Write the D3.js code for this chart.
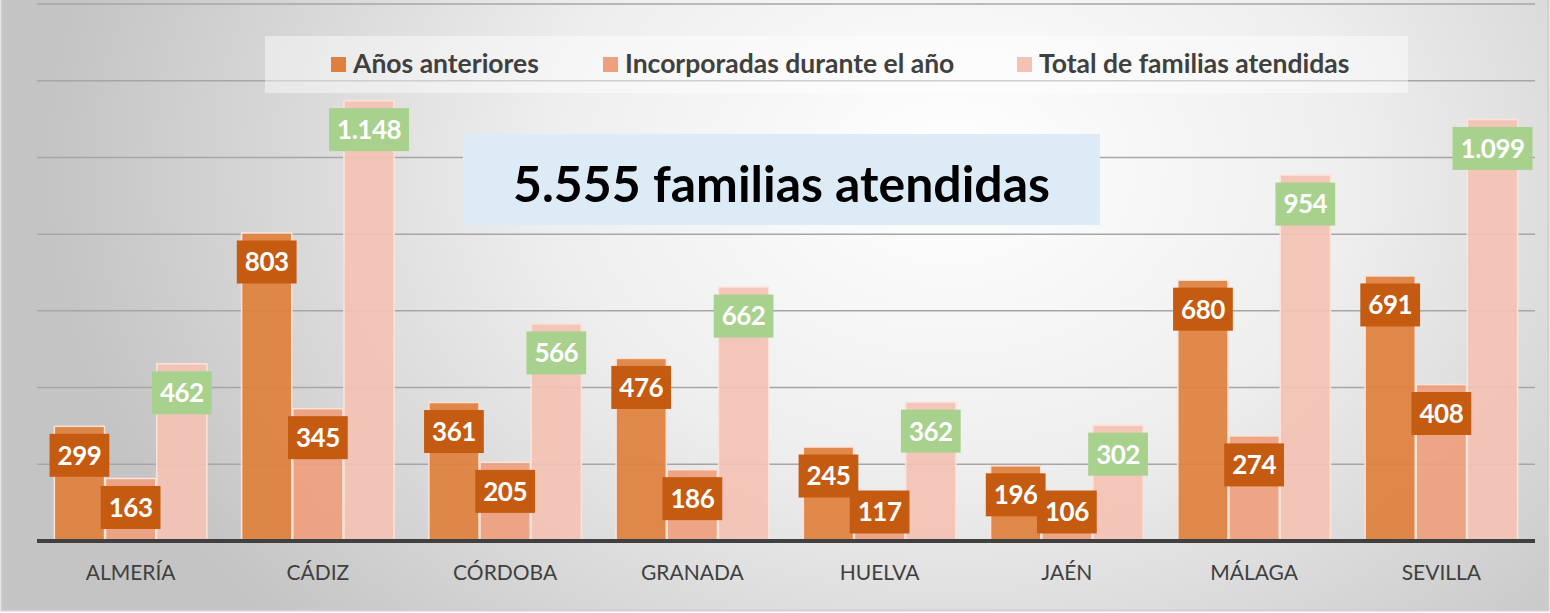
<!DOCTYPE html>
<html>
<head>
<meta charset="utf-8">
<script src="https://cdn.jsdelivr.net/npm/d3@7"></script>
<style>
  html, body { margin: 0; padding: 0; background: #fff; }
  svg { display: block; font-family: Lato, "Open Sans", sans-serif; }
</style>
</head>
<body>
<div id="chart"></div>
<script>
var provincias = ['ALMERÍA', 'CÁDIZ', 'CÓRDOBA', 'GRANADA', 'HUELVA', 'JAÉN', 'MÁLAGA', 'SEVILLA'];
var seriesNames = ['Años anteriores', 'Incorporadas durante el año', 'Total de familias atendidas'];
var aniosAnteriores = [299, 803, 361, 476, 245, 196, 680, 691];
var incorporadas = [163, 345, 205, 186, 117, 106, 274, 408];
var totalAtendidas = [462, 1148, 566, 662, 362, 302, 954, 1099];
var yTicks = [0, 200, 400, 600, 800, 1000, 1200, 1400];

var chart = {

  config: {
    width: 1550,
    height: 613,
    left: 37,
    right: 1535,
    top: 4,
    bottom: 541,
    barColors: ['#df7f3d', '#eea07e', '#f4c2b4'],
    labelColors: ['#c55a11', '#c55a11', '#a9d18e']
  },

  display: function() {
    this.fmt = d3.formatLocale({ decimal: ',', thousands: '.', grouping: [3], currency: ['', ''] }).format(',d');
    this.createSvg();
    this.createScales();
    this.createGrid();
    this.createBars();
    this.createAxis();
    this.createLegend();
    this.createTitle();
  },

  createSvg: function() {
    var c = this.config;
    this.svg = d3.select('#chart').append('svg')
                 .attr('width', c.width)
                 .attr('height', c.height);

    var grad = this.svg.append('defs').append('radialGradient')
                   .attr('id', 'bg')
                   .attr('gradientUnits', 'userSpaceOnUse')
                   .attr('cx', 950).attr('cy', 170).attr('r', 900)
                   .attr('gradientTransform', 'translate(950,170) scale(1,0.75) translate(-950,-170)');
    grad.append('stop').attr('offset', '0%').attr('stop-color', '#ffffff');
    grad.append('stop').attr('offset', '45%').attr('stop-color', '#eeeeee');
    grad.append('stop').attr('offset', '100%').attr('stop-color', '#c4c4c4');

    this.svg.append('rect')
            .attr('x', 1.5).attr('y', -2)
            .attr('width', c.width - 3).attr('height', c.height - 0.5)
            .attr('fill', 'url(#bg)')
            .attr('stroke', '#cfcfcf')
            .attr('stroke-width', 2);
  },

  createScales: function() {
    var c = this.config;
    this.x0 = d3.scaleBand()
                .domain(provincias)
                .range([c.left, c.right])
                .paddingInner(0.18)
                .paddingOuter(0.09);
    this.x1 = d3.scaleBand()
                .domain(d3.range(3))
                .range([0, this.x0.bandwidth()]);
    this.y = d3.scaleLinear()
               .domain([0, 1400])
               .range([c.bottom, c.top]);
  },

  createGrid: function() {
    var c = this.config;
    this.svg.append('g')
            .selectAll('line')
            .data(yTicks.slice(1))
            .enter()
            .append('line')
            .attr('x1', c.left).attr('x2', c.right)
            .attr('y1', (d) => this.y(d)).attr('y2', (d) => this.y(d))
            .attr('stroke', '#a6a6a6')
            .attr('stroke-width', 1.5);
  },

  createBars: function() {
    var c = this.config,
        data = [aniosAnteriores, incorporadas, totalAtendidas];

    var rows = provincias.map((p, i) => {
      return { name: p, values: data.map((s) => s[i]) };
    });

    var groups = this.svg.append('g')
                     .selectAll('g')
                     .data(rows)
                     .enter()
                     .append('g')
                     .attr('transform', (d) => 'translate(' + this.x0(d.name) + ',0)');

    groups.selectAll('rect')
          .data((d) => d.values.map((v, k) => ({ k: k, v: v })))
          .enter()
          .append('rect')
          .attr('x', (d) => this.x1(d.k) + 0.5)
          .attr('y', (d) => this.y(d.v))
          .attr('width', this.x1.bandwidth() - 1)
          .attr('height', (d) => c.bottom - this.y(d.v))
          .attr('fill', (d) => c.barColors[d.k])
          .attr('fill-opacity', 0.92)
          .attr('stroke', '#fbe3da')
          .attr('stroke-width', 1.5);

    // data labels
    var labels = groups.selectAll('g.lbl')
                       .data((d) => d.values.map((v, k) => ({ k: k, v: v })))
                       .enter()
                       .append('g')
                       .attr('class', 'lbl')
                       .attr('transform', (d) => {
                         var cx = this.x1(d.k) + this.x1.bandwidth() / 2,
                             cy = Math.min(this.y(d.v) + 29, c.bottom - 29);
                         return 'translate(' + cx + ',' + cy + ')';
                       });

    labels.append('text')
          .attr('text-anchor', 'middle')
          .attr('dy', '0.36em')
          .attr('fill', '#ffffff')
          .attr('font-weight', 'bold')
          .attr('font-size', 26)
          .attr('letter-spacing', -0.5)
          .text((d) => this.fmt(d.v));

    labels.each(function(d) {
      var t = d3.select(this).select('text'),
          w = t.node().getComputedTextLength() + 16;
      d3.select(this).insert('rect', 'text')
        .attr('x', -w / 2).attr('y', -21.5)
        .attr('width', w).attr('height', 43)
        .attr('fill', c.labelColors[d.k]);
    });
  },

  createAxis: function() {
    var c = this.config;
    var axis = this.svg.append('g')
                   .attr('transform', 'translate(0,' + c.bottom + ')')
                   .call(d3.axisBottom(this.x0).tickSize(0).tickPadding(24));
    axis.select('.domain').remove();
    axis.append('line')
        .attr('x1', c.left).attr('x2', c.right)
        .attr('stroke', '#404040')
        .attr('stroke-width', 4);
    axis.selectAll('text')
        .attr('font-family', 'Lato, sans-serif')
        .attr('font-size', 21)
        .attr('fill', '#404040');
  },

  createLegend: function() {
    var c = this.config,
        starts = [331, 603, 1017];

    this.svg.append('rect')
            .attr('x', 265).attr('y', 36)
            .attr('width', 1143).attr('height', 57)
            .attr('fill', '#ffffff')
            .attr('fill-opacity', 0.45);

    var items = this.svg.append('g')
                    .selectAll('g')
                    .data(seriesNames)
                    .enter()
                    .append('g')
                    .attr('transform', (d, i) => 'translate(' + starts[i] + ',57)');

    items.append('rect')
         .attr('width', 15).attr('height', 15)
         .attr('fill', (d, i) => c.barColors[i]);

    items.append('text')
         .attr('x', 22).attr('y', 16)
         .attr('font-size', 26.5)
         .attr('font-weight', 'bold')
         .attr('fill', '#404040')
         .text((d) => d);
  },

  createTitle: function() {
    var total = d3.sum(totalAtendidas);
    this.svg.append('rect')
            .attr('x', 463).attr('y', 134)
            .attr('width', 637).attr('height', 91)
            .attr('fill', '#ddebf7');
    var t = this.svg.append('text')
                .attr('x', 781.5).attr('y', 187)
                .attr('text-anchor', 'middle')
                .attr('dy', '0.3em')
                .attr('font-size', 46)
                .attr('font-weight', 'bold')
                .attr('fill', '#000')
                .text(this.fmt(total) + ' familias atendidas');
    var w = t.node().getComputedTextLength();
    t.attr('font-size', 46 * 537 / w);
  }

};

chart.display();
</script>
</body>
</html>
